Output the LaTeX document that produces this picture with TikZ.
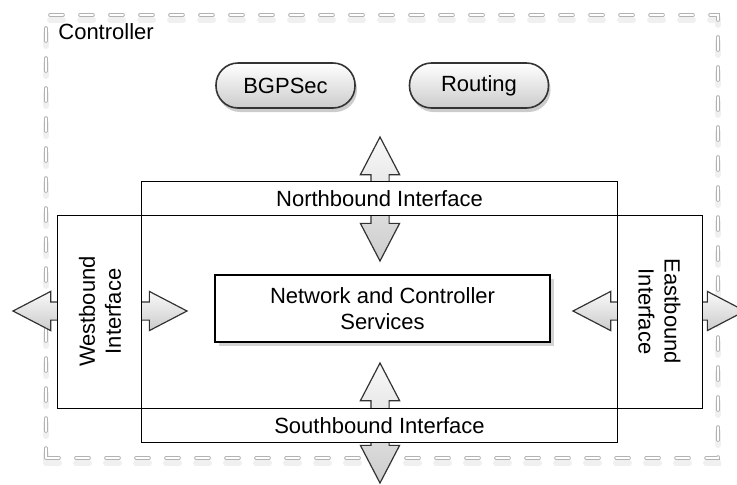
\documentclass[tikz,border=0pt]{standalone}
\usepackage{fontspec}
\setmainfont{Liberation Sans}
\usetikzlibrary{shapes.arrows, shadows}

\begin{document}
\begin{tikzpicture}[x=0.5pt, y=-0.5pt, font=\fontsize{11}{13}\selectfont,
    ctrlbox/.style={draw=gray!60, line width=0.4pt, double=white, double distance=1pt,
      line cap=round, dash pattern=on 6.5pt off 8.5pt,
      preaction={draw=gray!12, line width=3pt, line cap=round, dash pattern=on 6.5pt off 8.5pt, transform canvas={yshift=-2.5pt}}},
    pill/.style={draw=black!80, thick, rounded corners=11pt, minimum width=69.5pt, minimum height=22.5pt,
      top color=white, bottom color=gray!40, drop shadow={opacity=0.4, shadow xshift=1pt, shadow yshift=-2pt}},
    iarrow/.style={double arrow, draw=black!80, line width=0.6pt, inner sep=4.25pt,
      double arrow head extend=5.25pt, double arrow tip angle=55, top color=gray!5, bottom color=gray!40},
    band/.style={fill=white, inner sep=0pt}]
  \useasboundingbox (0,0) rectangle (737,484);

  % controller
  \node[ctrlbox, minimum width=336pt, minimum height=221.5pt] (ctrl) at (382,236.5) {};
  \node[anchor=base west, inner sep=0pt] (ctrllabel) at (58,39) {Controller};
  \node[pill] (bgpsec) at (285.5,85.5) {BGPSec};
  \node[pill] (routing) at (479,85.5) {Routing};

  % arrows through the interfaces
  \node[iarrow, minimum height=62pt, rotate=90] (northarrow) at (380,199) {};
  \node[iarrow, minimum height=60pt, rotate=90] (southarrow) at (380,423) {};
  \node[iarrow, minimum height=87pt] (westarrow) at (100,311) {};
  \node[iarrow, minimum height=86pt] (eastarrow) at (659,311) {};

  % interfaces
  \node[band, minimum width=237.5pt, minimum height=16.5pt] (north) at (379.5,198.5) {Northbound Interface};
  \node[band, minimum width=237.5pt, minimum height=16.5pt] (south) at (379.5,425.5) {Southbound Interface};
  \node[band, align=center, rotate=90, minimum width=96.5pt, minimum height=42pt] (west) at (100,311.5) {Westbound\\Interface};
  \node[band, align=center, rotate=-90, minimum width=96.5pt, minimum height=42.5pt] (east) at (659.5,311.5) {Eastbound\\Interface};
  \draw[thick] (north.north west) rectangle (south.south east);
  \draw[thick] (west.north |- north.south) rectangle (east.north |- south.north);

  \node[draw, thick, fill=white, align=center, minimum width=167.5pt, minimum height=33.5pt,
    drop shadow={opacity=0.35, shadow xshift=2pt, shadow yshift=-2pt}] (services) at (382.5,308.5)
    {Network and Controller\\Services};
\end{tikzpicture}
\end{document}
